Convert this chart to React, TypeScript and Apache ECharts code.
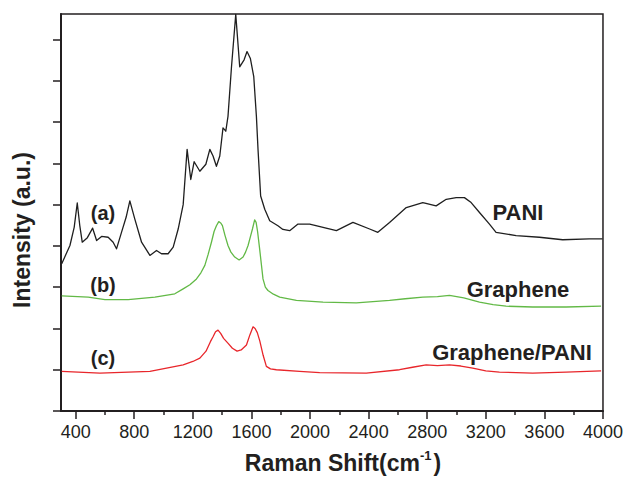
import React, { useEffect, useRef } from "react";
import * as echarts from "echarts";

// Raman shift (cm-1) and intensity (a.u., one y-tick = 1 unit)
const paniShift = [305, 361, 390, 411, 428, 445, 480, 516, 543, 577, 622, 656, 679, 714, 745, 770, 804, 850, 907, 952, 986, 1031, 1066, 1100, 1134, 1161, 1186, 1209, 1248, 1289, 1316, 1338, 1361, 1384, 1406, 1425, 1440, 1464, 1493, 1520, 1550, 1570, 1593, 1616, 1634, 1645, 1663, 1691, 1725, 1781, 1815, 1861, 1918, 1998, 2089, 2180, 2293, 2407, 2463, 2543, 2657, 2770, 2861, 2930, 2998, 3054, 3100, 3157, 3225, 3270, 3407, 3566, 3725, 3906, 3997];
const paniIntensity = [3.57, 4.01, 4.45, 5.04, 4.5, 4.09, 4.2, 4.43, 4.13, 4.23, 4.21, 4.09, 3.93, 4.34, 4.7, 5.09, 4.65, 4.09, 3.77, 3.89, 3.81, 3.81, 3.97, 4.41, 5.0, 6.34, 5.61, 6.04, 5.81, 5.98, 6.34, 6.18, 5.93, 6.18, 6.86, 6.78, 7.14, 8.34, 9.61, 8.34, 8.51, 8.71, 8.54, 8.1, 7.14, 6.34, 5.21, 4.89, 4.61, 4.49, 4.4, 4.37, 4.53, 4.53, 4.45, 4.37, 4.57, 4.41, 4.33, 4.57, 4.93, 5.05, 4.97, 5.13, 5.17, 5.17, 5.05, 4.81, 4.53, 4.33, 4.25, 4.21, 4.15, 4.17, 4.17];

const grapheneShift = [305, 486, 600, 759, 941, 1077, 1134, 1180, 1225, 1255, 1282, 1305, 1327, 1345, 1361, 1377, 1392, 1402, 1420, 1440, 1460, 1486, 1516, 1543, 1560, 1577, 1595, 1607, 1622, 1632, 1642, 1656, 1668, 1679, 1695, 1713, 1750, 1793, 1907, 2089, 2316, 2543, 2650, 2770, 2870, 2952, 3050, 3157, 3250, 3339, 3520, 3748, 3987];
const grapheneIntensity = [2.79, 2.76, 2.7, 2.7, 2.76, 2.84, 2.96, 3.06, 3.2, 3.35, 3.53, 3.8, 4.09, 4.35, 4.49, 4.59, 4.55, 4.49, 4.25, 4.01, 3.85, 3.73, 3.66, 3.73, 3.85, 4.01, 4.25, 4.41, 4.63, 4.57, 4.35, 3.93, 3.55, 3.2, 3.0, 2.92, 2.83, 2.76, 2.68, 2.64, 2.62, 2.68, 2.72, 2.76, 2.77, 2.8, 2.74, 2.64, 2.58, 2.54, 2.52, 2.52, 2.54];

const compositeShift = [305, 566, 907, 1134, 1200, 1248, 1290, 1320, 1338, 1355, 1372, 1390, 1410, 1441, 1470, 1502, 1530, 1566, 1590, 1611, 1625, 1640, 1657, 1680, 1702, 1730, 1770, 1929, 2066, 2384, 2611, 2700, 2793, 2870, 2952, 3030, 3111, 3200, 3293, 3520, 3748, 3987];
const compositeIntensity = [0.96, 0.92, 0.96, 1.12, 1.2, 1.28, 1.45, 1.68, 1.8, 1.92, 1.96, 1.88, 1.76, 1.64, 1.52, 1.45, 1.48, 1.6, 1.85, 2.04, 2.0, 1.9, 1.7, 1.35, 1.08, 1.02, 1.0, 0.96, 0.93, 0.92, 1.0, 1.06, 1.12, 1.1, 1.12, 1.09, 1.04, 0.97, 0.94, 0.92, 0.94, 0.97];

const xMajorTicks = [400, 800, 1200, 1600, 2000, 2400, 2800, 3200, 3600, 4000];
const xMinorTicks = [600, 1000, 1400, 1800, 2200, 2600, 3000, 3400, 3800];
const yTicks = [0, 1, 2, 3, 4, 5, 6, 7, 8, 9];

const zip = (xs: number[], ys: number[]) => xs.map((x, i) => [x, ys[i]]);

const FONT = "'Liberation Sans', Arial, sans-serif";
const INK = "#231f20";

export default function App() {
  const ref = useRef<HTMLDivElement>(null);
  useEffect(() => {
    document.body.style.margin = "0";
    const chart = echarts.init(ref.current!, null, { renderer: "svg" });
    const label = (text: string, x: number, y: number, size: number) => ({
      type: "text",
      x,
      y,
      style: {
        text,
        fill: INK,
        font: `bold ${size}px ${FONT}`,
        textAlign: "center",
        textVerticalAlign: "middle",
      },
    });
    const line = (name: string, xs: number[], ys: number[], color: string) => ({
      name,
      type: "line",
      data: zip(xs, ys),
      showSymbol: false,
      smooth: false,
      lineStyle: { color, width: 1.3, join: "round" },
      itemStyle: { color },
    });
    chart.setOption({
      animation: false,
      backgroundColor: "#ffffff",
      grid: {
        left: 61,
        right: 22,
        top: 14,
        bottom: 66,
        show: true,
        borderColor: INK,
        borderWidth: 1.5,
        backgroundColor: "transparent",
      },
      xAxis: [
        {
          type: "value",
          min: 300,
          max: 4000,
          name: "Raman Shift(cm{sup|-1})",
          nameLocation: "middle",
          nameGap: 38,
          nameTextStyle: {
            color: INK,
            fontFamily: FONT,
            fontWeight: "bold",
            fontSize: 23,
            padding: [0, 0, 0, 22],
            rich: {
              sup: { fontSize: 13, fontWeight: "bold", fontFamily: FONT, color: INK, verticalAlign: "top", padding: [0, 2, 14, 0] },
            },
          },
          axisLine: { show: true, lineStyle: { color: INK, width: 2 } },
          axisTick: { show: true, length: 8, inside: false, customValues: xMajorTicks, lineStyle: { color: INK, width: 1.5 } },
          axisLabel: {
            show: true,
            customValues: xMajorTicks,
            formatter: (v: number) => String(v),
            color: INK,
            fontFamily: FONT,
            fontSize: 18,
            margin: 12,
          },
          splitLine: { show: false },
        },
        {
          type: "value",
          min: 300,
          max: 4000,
          position: "bottom",
          axisLine: { show: false },
          axisTick: { show: true, length: 4, inside: false, customValues: xMinorTicks, lineStyle: { color: INK, width: 1.5 } },
          axisLabel: { show: false },
          splitLine: { show: false },
        },
      ],
      yAxis: {
        type: "value",
        min: 0,
        max: 9.62,
        axisLine: { show: true, lineStyle: { color: INK, width: 2 } },
        axisTick: { show: true, length: 8, inside: false, customValues: yTicks, lineStyle: { color: INK, width: 1.5 } },
        axisLabel: { show: false },
        splitLine: { show: false },
      },
      series: [
        line("PANI", paniShift, paniIntensity, "#1f1f1f"),
        line("Graphene", grapheneShift, grapheneIntensity, "#62b946"),
        line("Graphene/PANI", compositeShift, compositeIntensity, "#e8262b"),
      ],
      graphic: [
        {
          type: "text",
          x: 22,
          y: 230,
          rotation: Math.PI / 2,
          style: {
            text: "Intensity (a.u.)",
            fill: INK,
            font: `bold 23px ${FONT}`,
            textAlign: "center",
            textVerticalAlign: "middle",
          },
        },
        label("(a)", 103, 213, 20),
        label("(b)", 103, 285, 20),
        label("(c)", 103, 358, 20),
        label("PANI", 518, 212, 22),
        label("Graphene", 518, 289, 22),
        label("Graphene/PANI", 512, 352, 22),
      ],
    });
    return () => chart.dispose();
  }, []);
  return <div ref={ref} style={{ width: 626, height: 479 }} />;
}
